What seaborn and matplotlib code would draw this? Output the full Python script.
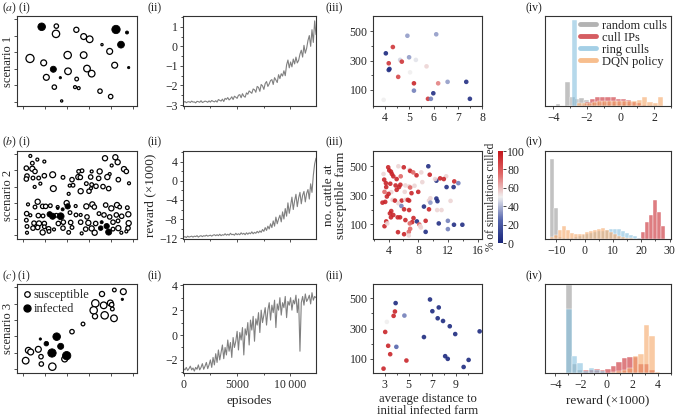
import numpy as np
import pandas as pd
import matplotlib
matplotlib.use("Agg")
import matplotlib.pyplot as plt
import seaborn as sns
from matplotlib.colors import LinearSegmentedColormap
from matplotlib.lines import Line2D
from matplotlib.ticker import MultipleLocator, FixedLocator, NullFormatter

# ---------------- (i) farm maps ----------------
a_x = [74, 297, 330, 312, 109, 130, 335, 255, 134, 118, 117, 178, 200, 218, 278, 39, 80, 152, 200, 293, 88, 153, 210, 224, 179, 112, 174, 185, 249, 281]
a_y = [235, 227, 218, 182, 109, 84, 114, 182, 15, 237, 214, 226, 206, 198, 162, 141, 128, 151, 151, 121, 85, 103, 111, 96, 80, 56, 56, 53, 44, 28]
a_cattle = [500, 605, 80, 405, 320, 45, 45, 45, 45, 180, 500, 245, 320, 405, 320, 605, 320, 500, 405, 320, 320, 405, 405, 405, 125, 180, 80, 80, 180, 180]
a_inf = [1, 1, 1, 1, 1, 1, 1, 0, 0, 0, 0, 0, 0, 0, 0, 0, 0, 0, 0, 0, 0, 0, 0, 0, 0, 0, 0, 0, 0, 0]

b_x = [40, 61, 82, 46, 264, 295, 302, 284, 321, 328, 28, 46, 54, 195, 185, 224, 248, 278, 30, 28, 48, 65, 82, 107, 165, 184, 190, 221, 245, 271, 304, 138, 53, 70, 168, 158, 208, 224, 237, 258, 109, 191, 216, 222, 275, 336, 155, 62, 33, 54, 77, 86, 100, 122, 149, 176, 208, 226, 232, 266, 283, 300, 308, 331, 29, 40, 64, 78, 118, 159, 177, 191, 210, 246, 261, 278, 298, 314, 334, 28, 51, 66, 82, 124, 139, 161, 191, 214, 236, 288, 303, 335, 30, 48, 62, 82, 95, 111, 138, 165, 206, 224, 304, 333, 288, 30, 77, 96, 155, 194, 233, 313, 328,
       98, 107, 122, 131, 137, 152, 251, 254, 269, 275]
b_y = [252, 241, 235, 230, 245, 248, 233, 223, 212, 205, 215, 213, 205, 207, 205, 205, 205, 197, 191, 182, 185, 185, 192, 195, 180, 188, 187, 188, 184, 188, 180, 187, 158, 168, 163, 162, 168, 165, 160, 159, 153, 145, 145, 154, 153, 169, 137, 113, 105, 97, 99, 99, 101, 97, 109, 100, 99, 105, 97, 103, 93, 103, 97, 95, 77, 72, 71, 70, 72, 80, 73, 73, 67, 77, 73, 67, 73, 69, 75, 57, 48, 47, 47, 47, 51, 50, 51, 49, 47, 51, 55, 48, 38, 33, 35, 37, 31, 29, 33, 35, 30, 32, 33, 33, 30, 19, 20, 23, 20, 17, 19, 19, 23,
       75, 69, 93, 69, 90, 99, 33, 51, 39, 21]
b_cattle = [80, 80, 80, 125, 245, 245, 245, 80, 245, 180, 180, 245, 180, 125, 125, 80, 245, 80, 180, 180, 125, 125, 180, 320, 180, 245, 180, 180, 180, 245, 180, 125, 80, 80, 125, 80, 125, 125, 180, 180, 320, 245, 180, 80, 180, 80, 80, 245, 80, 125, 180, 180, 125, 80, 245, 80, 245, 245, 180, 180, 245, 245, 125, 125, 180, 80, 180, 125, 125, 125, 125, 80, 180, 125, 180, 180, 180, 180, 245, 125, 180, 245, 180, 180, 180, 180, 180, 245, 180, 180, 125, 245, 125, 180, 180, 125, 180, 80, 180, 125, 180, 245, 245, 180, 125, 80, 245, 125, 125, 80, 245, 80, 80,
            245, 320, 45, 405, 80, 245, 180, 80, 245, 320]
b_inf = [0] * 113 + [1] * 10

c_x = [119, 131, 105, 149, 88, 70, 316, 292, 319, 255, 235, 260, 280, 284, 286, 230, 234, 263, 291, 198, 165, 34, 41, 64, 26, 72, 73, 106, 143]
c_y = [109, 80, 60, 52, 88, 102, 221, 249, 244, 237, 209, 203, 210, 205, 192, 188, 170, 173, 164, 147, 124, 68, 63, 71, 37, 49, 27, 19, 42]
c_cattle = [500, 320, 605, 605, 180, 45, 45, 125, 320, 245, 500, 405, 320, 180, 125, 500, 245, 500, 405, 125, 180, 320, 320, 320, 405, 180, 180, 500, 320]
c_inf = [1, 1, 1, 1, 1, 1, 1] + [0] * 22

# ---------------- (ii) training curves ----------------
reward_a = [-2.86, -2.82, -2.88, -2.84, -2.83, -2.87, -2.80, -2.85, -2.84, -2.89, -2.81, -2.83, -2.86, -2.78, -2.87, -2.84, -2.80, -2.82, -2.86, -2.79, -2.85, -2.77, -2.81, -2.84,
            -2.78, -2.85, -2.72, -2.76, -2.80, -2.70, -2.82, -2.66, -2.71, -2.62, -2.74, -2.68, -2.58, -2.72, -2.55, -2.60, -2.66, -2.50, -2.47, -2.63, -2.42, -2.55, -2.60, -2.38,
            -2.45, -2.28, -2.34, -2.40, -2.18, -2.22, -2.35, -2.05, -2.10, -2.30, -1.95, -2.02, -2.20, -1.90, -1.80, -2.05, -1.92, -1.75, -1.70, -1.95, -1.60, -1.72, -1.85, -1.45,
            -1.65, -1.40, -1.52, -1.25, -1.50, -0.95, -0.70, -1.10, -0.80, -1.05, -0.65, -0.90,
            -0.55, -0.85, -0.72, -0.40, -0.20, -0.55, 0.05, -0.35, -0.10, 0.30, 0.55, 0.00, 0.85, 0.20, 1.30, 0.60]
reward_b = [-11.8, -11.7, -11.9, -11.6, -11.8, -11.7, -11.6, -11.8, -11.6, -11.7, -11.5, -11.8, -11.6, -11.5, -11.7, -11.5, -11.6, -11.4, -11.6, -11.5, -11.4, -11.6, -11.4, -11.3,
            -11.5, -11.3, -11.5, -11.2, -11.5, -11.3, -11.4, -11.1, -11.4, -11.2, -11.4, -11.0, -11.3, -11.2, -11.4, -11.0, -11.3, -11.1, -11.3, -10.9, -11.2, -11.0, -11.3, -10.9,
            -11.2, -10.9, -11.1, -10.7, -11.1, -10.8, -11.0, -10.6, -10.9, -10.5, -10.8, -10.2, -10.6, -9.8, -10.4, -9.5, -10.1, -9.0, -9.8, -8.4, -9.5, -7.6, -9.0, -8.0,
            -7.2, -8.6, -6.5, -8.0, -5.8, -7.4, -4.6, -6.8, -5.2, -3.4, -6.0, -4.2, -2.8, -5.4, -3.6, -2.4, -4.8, -3.0, -2.2, -4.4, -2.6, -1.8, -3.8, -0.6, -2.4, 1.2, 3.6, 4.8]
reward_c = [-2.7, -2.8, -2.6, -2.85, -2.7, -2.5, -2.8, -2.65, -2.9, -2.6, -2.75, -2.4, -2.8, -2.6, -2.3, -2.75, -2.5, -2.2, -2.7, -2.4,
            -2.0, -2.6, -1.8, -2.4, -1.5, -2.2, -1.2, -2.0, -1.4, -0.8, -1.9, -1.0, -1.6, -0.4, -1.3, -0.6, -1.8, -0.2, -1.0, -0.5,
            0.3, -1.2, 0.2, -0.4, 0.6, -1.6, 0.5, 0.0, 1.0, -0.8, 1.2, 0.4, 1.5, -0.5, 1.3, 0.8, 1.8, 0.2, 2.0, 1.0,
            1.6, 2.2, 0.8, 2.0, 2.6, 1.2, 2.4, 1.8, 2.8, 0.6, 2.5, 2.0, 3.0, 1.6, 2.6, 2.2, 3.1, 1.4, 2.7, 2.4,
            3.0, 2.0, 2.8, 2.5, 3.2, 1.8, 2.9, -1.3, 2.6, 3.1, 2.4, 3.3, 2.7, 2.9, 3.2, 2.5, 3.4, 2.8, 3.1, 3.0]

# ---------------- (iii) culling scatter ----------------
a_dist = [4.92, 6.11, 4.32, 4.03, 4.99, 4.62, 5.27, 4.69, 4.15, 5.71, 4.18, 4.15, 5.03, 4.54, 5.19, 6.19, 6.58, 7.35, 5.19, 5.99, 5.77, 5.89, 7.50, 3.94]
a_herd = [470, 480, 393, 350, 323, 305, 305, 293, 282, 261, 243, 236, 220, 189, 145, 145, 155, 155, 95, 77, 39, 39, 39, 32]
a_pct = [35, 35, 90, 2, 35, 45, 48, 90, 90, 55, 5, 5, 50, 85, 95, 70, 35, 5, 30, 5, 90, 30, 5, 50]

b_dist = [3.95, 4.09, 4.32, 4.45, 3.32, 4.64, 5.09, 3.41, 3.64, 5.64, 5.32, 6.05, 6.82, 6.91, 7.32, 8.41, 9.36, 7.77, 5.59, 6.27, 6.77, 7.50, 8.55, 9.55, 10.45, 10.27, 10.95, 11.77, 11.45, 11.82, 12.86, 13.41, 12.77,
          4.23, 4.95, 3.68, 5.41, 6.18, 6.91, 7.09, 8.00, 5.09, 4.36, 3.45, 4.00, 4.55, 4.86, 5.77, 6.27, 6.77, 5.32, 5.73, 3.55, 3.18, 3.77, 9.64, 9.45, 10.45, 10.59, 9.64, 8.77, 9.45, 6.09, 6.77,
          4.36, 4.18, 4.64, 4.32, 3.68, 5.23, 5.55, 6.27, 7.82, 7.18, 6.86, 8.14, 8.27, 9.00, 10.77, 12.00, 12.00, 12.82, 13.95, 3.45, 3.82, 5.27, 6.09, 6.73, 6.91, 8.36, 9.00, 6.73, 10.55, 11.14, 12.36, 7.36, 6.59]
b_herd = [493, 472, 463, 447, 447, 431, 412, 408, 384, 431, 500, 493, 475, 468, 458, 458, 500, 438, 373, 368, 361, 366, 391, 442, 401, 412, 417, 431, 412, 357, 396, 384, 357,
          380, 368, 357, 357, 324, 354, 315, 324, 338, 322, 324, 310, 269, 264, 264, 269, 264, 246, 227, 255, 250, 292, 280, 264, 278, 260, 250, 223, 204, 204, 199,
          192, 176, 165, 149, 121, 149, 149, 130, 121, 116, 107, 100, 88, 125, 107, 125, 68, 98, 98, 88, 107, 47, 33, 49, 70, 79, 49, 24, 199, 199, 262, 144, 269]
b_pct = [95, 95, 95, 95, 55, 95, 95, 95, 95, 75, 55, 95, 55, 95, 75, 55, 5, 95, 95, 55, 55, 55, 55, 95, 5, 55, 95, 55, 95, 5, 95, 30, 5,
         95, 95, 95, 95, 55, 75, 95, 95, 95, 55, 75, 95, 55, 95, 95, 55, 95, 55, 30, 95, 95, 95, 55, 55, 5, 5, 35, 5, 95, 95, 95,
         95, 95, 95, 95, 95, 95, 95, 95, 5, 95, 75, 75, 55, 95, 5, 30, 30, 5, 5, 95, 55, 95, 95, 75, 75, 55, 5, 55, 55, 55, 55, 95, 95]

c_dist = [3.91, 3.85, 3.74, 4.65, 3.17, 3.03, 3.97, 3.28, 3.45, 4.82, 2.89, 6.81, 7.01, 7.55, 7.46, 7.91, 8.48, 8.94, 11.0, 6.30, 8.09, 8.31, 10.07, 9.65]
c_herd = [469, 413, 384, 386, 344, 277, 178, 185, 129, 87, 33, 493, 415, 440, 368, 350, 315, 263, 281, 243, 116, 98, 91, 44]
c_pct = [3, 95, 95, 30, 50, 95, 25, 95, 95, 95, 95, 3, 3, 3, 3, 3, 3, 3, 3, 3, 3, 3, 3, 3]

# ---------------- (iv) reward histograms ----------------
policies = ["random culls", "cull IPs", "ring culls", "DQN policy"]
pol_colors = ["#9a9a9a", "#c8272d", "#86c0de", "#f5a868"]

ha_centers = {
    "random culls": [-3.72, -3.44, -3.16, -2.88, -2.60, -2.32, -2.04, -1.76, -1.48, -1.20, -0.92, -0.64, -0.36, -0.08, 0.20, 0.48, 0.76, 1.04, 1.32, 1.60, 1.88, 2.16, 2.44],
    "cull IPs": [-2.25, -1.95, -1.65, -1.35, -1.05, -0.75, -0.45, -0.15, 0.15, 0.45, 0.75, 1.05, 1.35],
    "ring culls": [-3.03, -2.75, -2.47],
    "DQN policy": [-2.45, -2.15, -1.85, -1.55, -1.25, -0.95, -0.65, -0.35, -0.05, 0.25, 0.55, 0.85, 1.15, 1.45, 1.75, 2.05, 2.35],
}
ha_counts = {
    "random culls": [6, 0, 73, 28, 22, 25, 18, 12, 10, 8, 8, 6, 6, 5, 5, 5, 4, 4, 4, 3, 3, 3, 0],
    "cull IPs": [4, 12, 22, 27, 28, 28, 27, 22, 20, 17, 12, 8, 4],
    "ring culls": [0, 258, 0],
    "DQN policy": [8, 10, 10, 12, 14, 15, 15, 16, 16, 15, 15, 14, 18, 26, 12, 10, 26],
}
hb_centers = {
    "random culls": [-11.6, -10.2, -8.8, -7.4],
    "cull IPs": [19.2, 20.6, 22.0, 23.4, 24.8, 26.2, 27.6],
    "ring culls": [-11.6, -10.2, -8.8, -7.4, -6.0, -4.6, -3.2, -1.8, -0.4, 1.0, 2.4, 3.8, 5.2, 6.6, 8.0, 9.4, 10.8, 12.2, 13.6, 15.0, 16.4, 17.8, 19.2],
    "DQN policy": [-11.6, -10.2, -8.8, -7.4, -6.0, -4.6, -3.2, -1.8, -0.4, 1.0, 2.4, 3.8, 5.2, 6.6, 8.0, 9.4, 10.8, 12.2, 13.6, 15.0, 16.4, 17.8],
}
hb_counts = {
    "random culls": [236, 90, 5, 3],
    "cull IPs": [4, 20, 50, 70, 113, 78, 38],
    "ring culls": [3, 4, 3, 2, 2, 3, 5, 8, 12, 15, 18, 20, 22, 24, 26, 28, 30, 28, 22, 18, 12, 8, 4],
    "DQN policy": [5, 12, 25, 38, 25, 18, 15, 15, 16, 20, 22, 26, 30, 32, 26, 20, 14, 8, 5, 3, 2, 1],
}
hc_centers = {
    "random culls": [-2.92, -2.49, -2.06],
    "cull IPs": [-1.63, -1.20, -0.77, -0.34, 0.09, 0.52, 0.95, 1.38, 1.81, 2.24, 2.67, 3.10, 3.53],
    "ring culls": [-2.92, -2.49, -2.06, -1.63, -1.20, -0.77, -0.34],
    "DQN policy": [0.52, 0.95, 1.38, 1.81, 2.24, 2.67, 3.10, 3.53, 3.96],
}
hc_counts = {
    "random culls": [258, 25, 8],
    "cull IPs": [8, 10, 12, 10, 13, 20, 32, 45, 47, 48, 25, 25, 10],
    "ring culls": [188, 50, 28, 5, 15, 8, 5],
    "DQN policy": [3, 5, 10, 15, 50, 55, 140, 108, 3],
}

# ---------------- styling ----------------
sns.set_theme(style="ticks")
plt.rcParams["font.family"] = ["Liberation Serif", "DejaVu Serif"]
plt.rcParams["mathtext.fontset"] = "stix"
plt.rcParams["font.size"] = 8.5
plt.rcParams["axes.edgecolor"] = "#333333"
plt.rcParams["axes.linewidth"] = 0.8

TICK_FS = 8.5
LAB_FS = 9.5

W, H = 675, 418
fig = plt.figure(figsize=(6.75, 4.18), dpi=100)

col_lr = [(17, 137), (183, 316), (373, 482), (545, 671)]
row_tb = [(16, 106), (151, 239), (284, 373)]


def make_ax(r, c):
    (l, rr), (t, b) = col_lr[c], row_tb[r]
    ax = fig.add_axes([l / W, 1 - b / H, (rr - l) / W, (b - t) / H])
    ax.tick_params(which="both", direction="out", width=0.6, color="#333333",
                   labelsize=TICK_FS, pad=1.5, length=2.5)
    ax.tick_params(which="minor", length=1.5)
    for s in ax.spines.values():
        s.set_linewidth(0.8)
        s.set_color("#333333")
    return ax


farm_sets = [(a_x, a_y, a_cattle, a_inf), (b_x, b_y, b_cattle, b_inf), (c_x, c_y, c_cattle, c_inf)]
curves = [reward_a, reward_b, reward_c]
culls = [(a_dist, a_herd, a_pct), (b_dist, b_herd, b_pct), (c_dist, c_herd, c_pct)]
hists = [(ha_centers, ha_counts), (hb_centers, hb_counts), (hc_centers, hc_counts)]

cmap = LinearSegmentedColormap.from_list("cull", ["#17247a", "#5565ad", "#f0f0f0", "#e06868", "#c4161c"])

for r in range(3):
    # (i)
    ax = make_ax(r, 0)
    fx, fy, fc, fi = farm_sets[r]
    df = pd.DataFrame(dict(x=fx, y=fy, c=fc, inf=fi))
    sns.scatterplot(data=df[df.inf == 0], x="x", y="y", size="c", sizes=(0, 34), size_norm=(0, 605),
                    color="white", edgecolor="black", linewidth=0.9, legend=False, ax=ax, zorder=2)
    sns.scatterplot(data=df[df.inf == 1], x="x", y="y", size="c", sizes=(0, 36), size_norm=(0, 605),
                    color="black", edgecolor="black", linewidth=0.6, legend=False, ax=ax, zorder=3)
    ax.set_xlim(0, 360)
    ax.set_ylim(0, 267)
    ax.xaxis.set_major_locator(FixedLocator([18, 84, 150, 216, 282, 348]))
    ax.yaxis.set_major_locator(FixedLocator([12, 61, 110, 159, 208, 257]))
    ax.xaxis.set_major_formatter(NullFormatter())
    ax.yaxis.set_major_formatter(NullFormatter())
    ax.tick_params(length=2)
    ax.set_xlabel("")
    ax.set_ylabel("")
    yc = 1 - (row_tb[r][0] + row_tb[r][1]) / 2 / H
    fig.text(8.5 / W, yc, f"scenario {r + 1}", fontsize=9, rotation=90, ha="center", va="center")
    if r == 2:
        hnd = [Line2D([], [], marker="o", ls="", mfc="white", mec="black", ms=4, mew=0.9),
               Line2D([], [], marker="o", ls="", mfc="black", mec="black", ms=5)]
        ax.legend(hnd, ["susceptible", "infected"], loc="upper left", frameon=False, fontsize=9,
                  handletextpad=0.1, handlelength=0.8, labelspacing=0.15, borderpad=0.2, borderaxespad=0.2)

    # (ii)
    ax = make_ax(r, 1)
    vals = curves[r]
    episodes = np.linspace(0, 12400, len(vals))
    sns.lineplot(x=episodes, y=vals, color="#808080", linewidth=0.8, estimator=None, ax=ax)
    ax.set_xlim(-60, 12400)
    ax.xaxis.set_major_locator(FixedLocator([0, 5000, 10000]))
    ax.xaxis.set_minor_locator(FixedLocator([2500, 7500]))
    if r == 0:
        ax.set_ylim(-3.05, 1.55)
        ax.yaxis.set_major_locator(MultipleLocator(1))
        ax.yaxis.set_minor_locator(MultipleLocator(0.5))
    elif r == 1:
        ax.set_ylim(-12.2, 6.3)
        ax.yaxis.set_major_locator(MultipleLocator(4))
        ax.yaxis.set_minor_locator(MultipleLocator(2))
        ax.set_ylabel("reward (×1000)", fontsize=LAB_FS, labelpad=2)
    else:
        ax.set_ylim(-3.05, 4.1)
        ax.yaxis.set_major_locator(MultipleLocator(2))
        ax.yaxis.set_minor_locator(MultipleLocator(1))
    if r == 2:
        ax.set_xticklabels(["0", "5000", "10\u2009000"])
        ax.set_xlabel("episodes", fontsize=LAB_FS, labelpad=3)
    else:
        ax.xaxis.set_major_formatter(NullFormatter())
        ax.set_xlabel("")
    if r != 1:
        ax.set_ylabel("")

    # (iii)
    ax = make_ax(r, 2)
    dx, dy, dp = culls[r]
    sns.scatterplot(x=dx, y=dy, hue=dp, palette=cmap, hue_norm=(0, 100), s=11, linewidth=0,
                    alpha=0.9, legend=False, ax=ax)
    ax.yaxis.set_major_locator(FixedLocator([100, 300, 500]))
    ax.yaxis.set_minor_locator(FixedLocator([200, 400]))
    if r == 0:
        ax.set_xlim(3.5, 8.0)
        ax.set_ylim(-10, 605)
        ax.xaxis.set_major_locator(MultipleLocator(1))
        ax.xaxis.set_minor_locator(MultipleLocator(0.5))
    elif r == 1:
        ax.set_xlim(1.9, 16.6)
        ax.set_ylim(0, 605)
        ax.xaxis.set_major_locator(FixedLocator([4, 8, 12, 16]))
        ax.xaxis.set_minor_locator(FixedLocator([2, 6, 10, 14]))
        ax.set_ylabel("no. cattle at\nsusceptible farm", fontsize=LAB_FS, labelpad=2, linespacing=1.0)
    else:
        ax.set_xlim(2.0, 11.2)
        ax.set_ylim(4, 596)
        ax.xaxis.set_major_locator(FixedLocator([3, 5, 7, 9]))
        ax.xaxis.set_minor_locator(FixedLocator([4, 6, 8, 10]))
        ax.set_xlabel("average distance to\ninitial infected farm", fontsize=9.2, labelpad=2, linespacing=1.0)
    if r != 1:
        ax.set_ylabel("")
    if r != 2:
        ax.set_xlabel("")

    # (iv)
    ax = make_ax(r, 3)
    cen, cnt = hists[r]
    for pol, col in zip(policies, pol_colors):
        cc = cen[pol]
        w = cc[1] - cc[0]
        edges = [cc[0] - w / 2 + i * w for i in range(len(cc) + 1)]
        sns.histplot(x=cc, weights=cnt[pol], bins=edges, color=col, alpha=0.6,
                     edgecolor="white", linewidth=0.3, ax=ax)
    ax.set_yticks([])
    ax.set_ylabel("")
    if r == 0:
        ax.set_xlim(-4.5, 3.0)
        ax.set_ylim(0, 270)
        ax.xaxis.set_major_locator(MultipleLocator(2))
        ax.xaxis.set_minor_locator(MultipleLocator(1))
        hnd = [Line2D([], [], color=c, lw=3.5, alpha=0.75) for c in pol_colors]
        ax.legend(hnd, policies, loc="upper right", frameon=False, fontsize=9, handlelength=1.3,
                  handletextpad=0.5, labelspacing=0.0, borderpad=0.2, borderaxespad=0.1)
    elif r == 1:
        ax.set_xlim(-14, 30.5)
        ax.set_ylim(0, 258)
        ax.xaxis.set_major_locator(MultipleLocator(10))
        ax.xaxis.set_minor_locator(MultipleLocator(5))
    else:
        ax.set_xlim(-4.8, 5.0)
        ax.set_ylim(0, 261)
        ax.xaxis.set_major_locator(MultipleLocator(2))
        ax.xaxis.set_minor_locator(MultipleLocator(1))
    if r == 2:
        ax.set_xlabel("reward (×1000)", fontsize=LAB_FS, labelpad=3)
    else:
        ax.set_xlabel("")

# colorbar
cax = fig.add_axes([498 / W, 1 - 243 / H, 4.5 / W, 92 / H])
sm = plt.cm.ScalarMappable(cmap=cmap, norm=plt.Normalize(0, 100))
cb = fig.colorbar(sm, cax=cax)
cb.outline.set_visible(False)
cb.set_ticks([0, 20, 40, 60, 80, 100])
cax.tick_params(labelsize=TICK_FS, length=2, width=0.6, pad=1.5)
cb.set_label("% of simulations culled", fontsize=8.3, labelpad=1)
cax.yaxis.set_label_position("left")

# panel labels
for r, (letter, ypx) in enumerate(zip("abc", [8, 142, 276])):
    yy = 1 - ypx / H
    fig.text(2 / W, yy, rf"($\mathit{{{letter}}}$) (i)", fontsize=8.5, va="center", ha="left")
    fig.text(148 / W, yy, "(ii)", fontsize=8.5, va="center", ha="left")
    fig.text(325 / W, yy, "(iii)", fontsize=8.5, va="center", ha="left")
    fig.text(526 / W, yy, "(iv)", fontsize=8.5, va="center", ha="left")

fig.savefig("out.png", dpi=100)
